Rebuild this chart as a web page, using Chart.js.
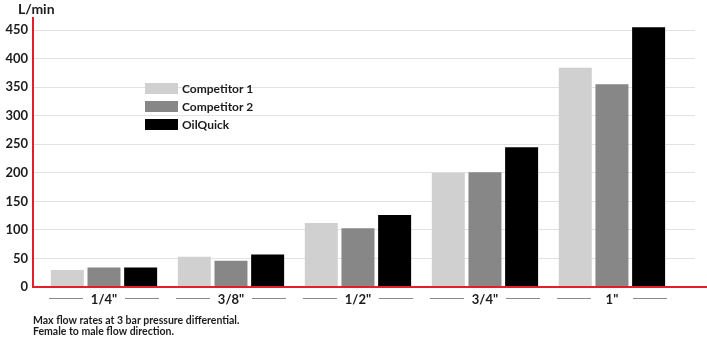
<!DOCTYPE html>
<html>
<head>
<meta charset="utf-8">
<script src="https://cdn.jsdelivr.net/npm/chart.js@4.4.1/dist/chart.umd.min.js"></script>
<style>
  html, body { margin: 0; padding: 0; background: #fff; }
  #wrap { width: 707px; height: 351px; }
</style>
</head>
<body>
<div id="wrap"><canvas id="flowChart"></canvas></div>
<script>
// --- data ---
const sizes = ["1/4\"", "3/8\"", "1/2\"", "3/4\"", "1\""];
const competitor1 = [30, 53, 112, 200, 384];
const competitor2 = [34, 46, 103, 201, 355];
const oilquick = [34, 57, 126, 245, 455];
const yTicks = [0, 50, 100, 150, 200, 250, 300, 350, 400, 450];
const notes = ["Max flow rates at 3 bar pressure differential.", "Female to male flow direction."];

const FONT = "Lato, 'Open Sans', sans-serif";
const RED = "#e3202a";
const INK = "#1c1c1c";

const pts = arr => arr.map((v, i) => ({ x: i, y: v }));

// axes, legend, notes and the little dashes beside the size labels
const decor = {
  id: "decor",
  afterDraw(chart) {
    const ctx = chart.ctx;
    const a = chart.chartArea;
    const xs = chart.scales.x;
    ctx.save();

    // red axes
    ctx.strokeStyle = RED;
    ctx.lineWidth = 2;
    ctx.beginPath();
    ctx.moveTo(a.left, 17);
    ctx.lineTo(a.left, a.bottom);
    ctx.lineTo(707, a.bottom);
    ctx.stroke();

    // unit
    ctx.fillStyle = INK;
    ctx.font = "bold 14px " + FONT;
    ctx.textBaseline = "middle";
    ctx.textAlign = "left";
    ctx.fillText("L/min", 18, 9);

    // dashes around category labels
    ctx.strokeStyle = "#8a8a8a";
    ctx.lineWidth = 1;
    sizes.forEach((s, i) => {
      const c = xs.getPixelForValue(i);
      const y = 298.5;
      ctx.beginPath();
      ctx.moveTo(c - 55, y); ctx.lineTo(c - 21, y);
      ctx.moveTo(c + 21, y); ctx.lineTo(c + 55, y);
      ctx.stroke();
    });

    // legend
    ctx.font = "bold 12px " + FONT;
    chart.data.datasets.forEach((ds, i) => {
      const y = 83 + i * 18;
      ctx.fillStyle = ds.backgroundColor;
      ctx.fillRect(145, y, 33, 11);
      ctx.fillStyle = INK;
      ctx.fillText(ds.label, 182, y + 6);
    });

    // footnote
    ctx.font = "bold 10.5px " + FONT;
    notes.forEach((n, i) => ctx.fillText(n, 33, 321 + i * 11));

    ctx.restore();
  }
};

new Chart(document.getElementById("flowChart"), {
  type: "bar",
  data: {
    datasets: [
      { label: "Competitor 1", data: pts(competitor1), backgroundColor: "#d0d0d0" },
      { label: "Competitor 2", data: pts(competitor2), backgroundColor: "#878787" },
      { label: "OilQuick", data: pts(oilquick), backgroundColor: "#000000" }
    ]
  },
  options: {
    responsive: true,
    maintainAspectRatio: false,
    animation: false,
    categoryPercentage: 0.866,
    barPercentage: 0.9,
    layout: { padding: { top: 17, right: 12, left: 0, bottom: 0 } },
    plugins: {
      legend: { display: false },
      tooltip: { enabled: false }
    },
    scales: {
      x: {
        type: "linear",
        offset: false,
        min: -0.559,
        max: 4.654,
        grid: { display: false, drawTicks: false, offset: false },
        border: { display: false },
        afterBuildTicks: s => { s.ticks = sizes.map((_, i) => ({ value: i })); },
        afterFit: s => { s.height = 64; },
        ticks: {
          padding: 5,
          color: INK,
          font: { family: FONT, size: 13, weight: "bold" },
          maxRotation: 0,
          callback: v => sizes[v]
        }
      },
      y: {
        min: 0,
        max: 473,
        afterBuildTicks: s => { s.ticks = yTicks.map(v => ({ value: v })); },
        afterFit: s => { s.width = 33; },
        grid: { color: "#e2e2e2", lineWidth: 1, drawTicks: false },
        border: { display: false },
        ticks: {
          padding: 5,
          color: INK,
          font: { family: FONT, size: 13, weight: "bold" }
        }
      }
    }
  },
  plugins: [decor]
});
</script>
</body>
</html>
